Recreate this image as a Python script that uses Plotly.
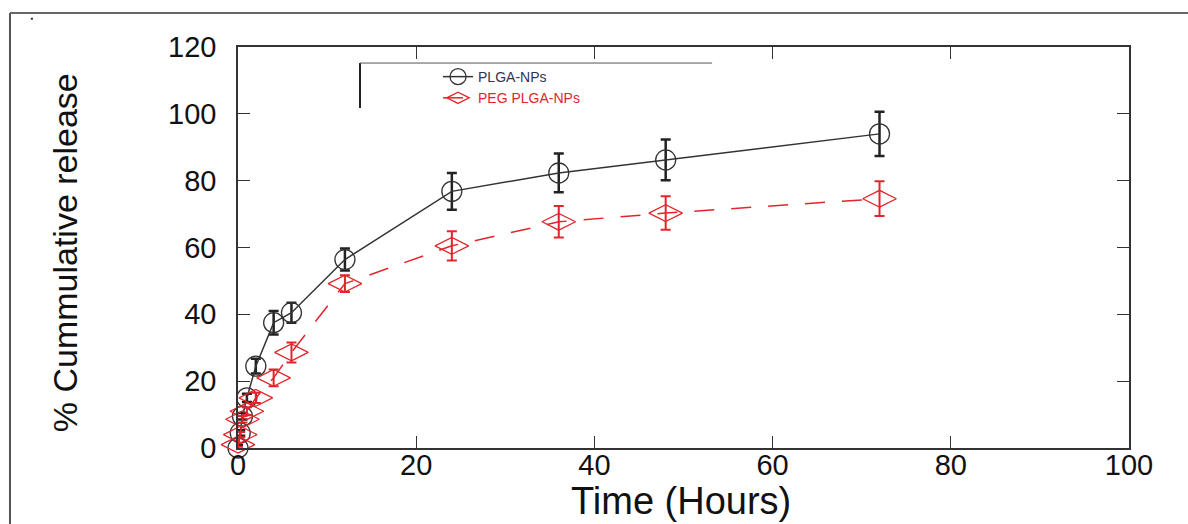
import plotly.graph_objects as go

# ---- data ----
time_plga = [0, 0.25, 0.5, 1, 2, 4, 6, 12, 24, 36, 48, 72]
release_plga = [0, 4.5, 9.5, 15, 24.5, 37.5, 40.5, 56.4, 76.8, 82.3, 86.2, 94.0]
err_plga = [0.8, 0.8, 1, 1.2, 2.2, 3.5, 3, 3.3, 5.5, 5.8, 6.1, 6.6]

time_peg = [0, 0.25, 0.5, 1, 2, 4, 6, 12, 24, 36, 48, 72]
release_peg = [1, 4, 8.6, 11, 15, 21, 28.6, 49.2, 60.5, 67.7, 70.3, 74.6]
err_peg = [0.6, 0.8, 1, 1.2, 1.5, 2.5, 3, 2.5, 4.4, 4.7, 5.0, 5.2]

series_names = ["PLGA-NPs", "PEG PLGA-NPs"]
x_ticks = [0, 20, 40, 60, 80, 100]
y_ticks = [0, 20, 40, 60, 80, 100, 120]
x_title = "Time (Hours)"
y_title = "% Cummulative release"

BLACK = "#333333"
RED = "#e3242b"
FONT = "Liberation Sans, Arial, sans-serif"

fig = go.Figure()
fig.add_trace(go.Scatter(
    x=time_plga, y=release_plga, name=series_names[0], mode="lines+markers",
    line=dict(color=BLACK, width=1.5),
    marker=dict(symbol="circle-open", size=20, color=BLACK, line=dict(width=1.3, color=BLACK)),
    error_y=dict(type="data", array=err_plga, visible=True, color="#222222", thickness=2.5, width=5),
    cliponaxis=False,
))
fig.add_trace(go.Scatter(
    x=time_peg, y=release_peg, name='<span style="color:#e3242b">' + series_names[1] + '</span>',
    mode="lines+markers",
    line=dict(color=RED, width=1.5, dash="20px,17px"),
    marker=dict(symbol="diamond-wide-open", size=24, color=RED, line=dict(width=1.3, color=RED)),
    error_y=dict(type="data", array=err_peg, visible=True, color=RED, thickness=2, width=5),
    cliponaxis=False,
))

axis_common = dict(
    showgrid=False, zeroline=False, showline=True, linecolor=BLACK, linewidth=1.5,
    mirror="allticks", ticks="inside", ticklen=12, tickcolor=BLACK, tickwidth=1.2,
    tickfont=dict(family=FONT, size=29, color="#111111"), automargin=False,
)

fig.update_xaxes(range=[0, 100], tickvals=x_ticks, ticktext=[str(v) for v in x_ticks],
                 ticklabelstandoff=-10, **axis_common)
fig.update_yaxes(range=[0, 120], tickvals=y_ticks, ticktext=[str(v) for v in y_ticks],
                 ticklabelstandoff=14, **axis_common)

shapes = [
    # outer figure frame (left and top edges)
    dict(type="line", xref="paper", yref="paper", x0=-0.2559, x1=-0.2559, y0=1.0848, y1=-0.25,
         line=dict(color="#555555", width=2)),
    dict(type="line", xref="paper", yref="paper", x0=-0.2559, x1=1.08, y0=1.0848, y1=1.0848,
         line=dict(color="#666666", width=2)),
    dict(type="rect", xref="paper", yref="paper", x0=-0.2325, x1=-0.2302, y0=1.073, y1=1.068,
         fillcolor="#333333", line=dict(width=0)),
    # legend frame (left and top edges)
    dict(type="line", xref="paper", yref="paper", x0=0.1369, x1=0.1369, y0=0.96, y1=0.848,
         line=dict(color="#222222", width=2)),
    dict(type="line", xref="paper", yref="paper", x0=0.1369, x1=0.5321, y0=0.96, y1=0.96,
         line=dict(color="#555555", width=1)),
]

annotations = [
    dict(text=x_title, xref="paper", yref="paper", x=0.497, y=-0.1895, xanchor="center", yanchor="bottom",
         showarrow=False, font=dict(family=FONT, size=38, color="#111111")),
    dict(text=y_title, xref="paper", yref="paper", x=-0.194, y=0.486, xanchor="center", yanchor="middle",
         textangle=-90, showarrow=False, font=dict(family=FONT, size=34, color="#111111")),
]

fig.update_layout(
    width=1188, height=524,
    margin=dict(l=238, r=59, t=47, b=76, autoexpand=False),
    paper_bgcolor="white", plot_bgcolor="white",
    font=dict(family=FONT, color="#111111"),
    showlegend=True,
    legend=dict(x=0.2245, y=0.965, xanchor="left", yanchor="top",
                bgcolor="rgba(0,0,0,0)", borderwidth=0,
                font=dict(family=FONT, size=14, color="#33334d"),
                tracegroupgap=0, itemwidth=30),
    shapes=shapes,
    annotations=annotations,
)

fig.write_html("out.html", config={"displayModeBar": False},
               post_script="document.body.style.margin='0';document.body.style.overflow='hidden';")
